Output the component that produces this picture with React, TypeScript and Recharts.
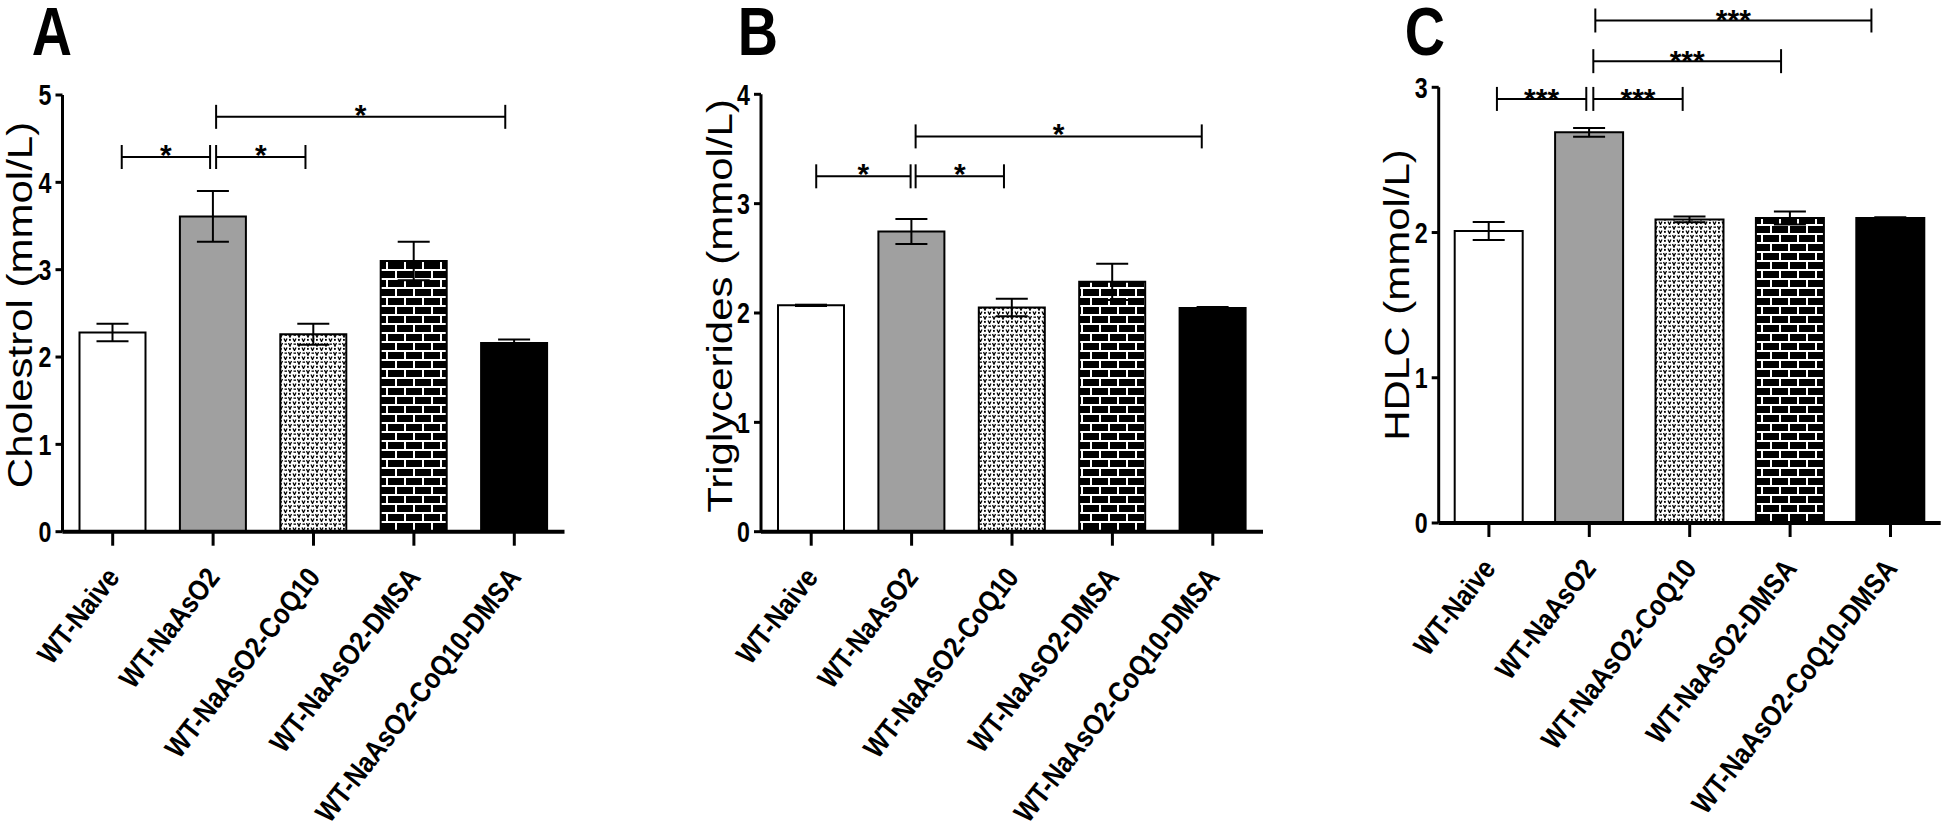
import { BarChart, Bar, XAxis, YAxis, ErrorBar, Cell, ReferenceLine } from "recharts";

const FONT = "'Liberation Sans', Arial, sans-serif";

const groups = [
  "WT-Naive",
  "WT-NaAsO2",
  "WT-NaAsO2-CoQ10",
  "WT-NaAsO2-DMSA",
  "WT-NaAsO2-CoQ10-DMSA",
];
const groupPos = [0, 1, 2, 3, 4];

// mean and SEM
const cholesterol = [2.28, 3.61, 2.26, 3.1, 2.16];
const cholesterolSem = [0.1, 0.29, 0.12, 0.22, 0.04];
const triglycerides = [2.07, 2.745, 2.05, 2.285, 2.045];
const triglyceridesSem = [0.006, 0.115, 0.08, 0.165, 0.01];
const hdlc = [2.01, 2.69, 2.09, 2.1, 2.1];
const hdlcSem = [0.062, 0.03, 0.02, 0.045, 0.006];

const cholTicks = [0, 1, 2, 3, 4, 5];
const trigTicks = [0, 1, 2, 3, 4];
const hdlcTicks = [0, 1, 2, 3];

// significance brackets: [from, to, level, stars], from/to in group-index units
type Bracket = [number, number, number, string];
const cholBrackets: Bracket[] = [
  [0.09, 0.97, 4.29, "*"],
  [1.03, 1.92, 4.29, "*"],
  [1.03, 3.91, 4.75, "*"],
];
const trigBrackets: Bracket[] = [
  [0.05, 0.99, 3.25, "*"],
  [1.04, 1.92, 3.25, "*"],
  [1.04, 3.89, 3.615, "*"],
];
const hdlcBrackets: Bracket[] = [
  [0.08, 0.97, 2.92, "***"],
  [1.04, 1.93, 2.92, "***"],
  [1.04, 2.91, 3.18, "***"],
  [1.06, 3.81, 3.46, "***"],
];

const PLOT_W = 502;

const GroupTick = (props: any) => {
  const { x, y, payload } = props;
  return (
    <text
      transform={`translate(${x + 8},${y + 30}) rotate(-52) scale(0.86,1)`}
      textAnchor="end"
      fontSize={29}
      fontWeight="bold"
      fill="#000"
      fontFamily={FONT}
    >
      {groups[payload.value]}
    </text>
  );
};

const NumTick = (props: any) => {
  const { x, y, payload } = props;
  return (
    <text
      transform={`translate(${x},${y}) scale(0.8,1)`}
      dy="0.36em"
      textAnchor="end"
      fontSize={29}
      fontWeight="bold"
      fill="#000"
      fontFamily={FONT}
    >
      {payload.value}
    </text>
  );
};

interface PanelProps {
  uid: string;
  letter: string;
  title: string;
  values: number[];
  sem: number[];
  ticks: number[];
  brackets: Bracket[];
  left: number;
  width: number;
  yAxisWidth: number;
  top: number;
  axisY: number;
  barSize: number;
  letterX: number;
  titleX: number;
  titleY: number;
  starOffset: number;
}

function Panel(p: PanelProps) {
  const data = groups.map((name, i) => ({ name, pos: groupPos[i], value: p.values[i], sem: p.sem[i] }));
  const yMax = p.ticks[p.ticks.length - 1];
  const pxPerUnit = (p.axisY - p.top) / yMax;
  const capHalf = 12 / pxPerUnit;
  const right = p.width - p.yAxisWidth - PLOT_W;
  const fills = ["#ffffff", "#a0a0a0", `url(#dots-${p.uid})`, `url(#bricks-${p.uid})`, "#000000"];

  const titleLabel = () => (
    <g>
      <text
        transform={`translate(${p.letterX},55) scale(0.82,1)`}
        textAnchor="middle"
        fontSize={68}
        fontWeight="bold"
        fill="#000"
        fontFamily={FONT}
      >
        {p.letter}
      </text>
      <text
        transform={`translate(${p.titleX},${p.titleY}) scale(0.85,1) rotate(-90)`}
        textAnchor="middle"
        fontSize={42}
        fill="#000"
        fontFamily={FONT}
      >
        {p.title}
      </text>
    </g>
  );

  return (
    <div style={{ position: "absolute", left: p.left, top: 0 }}>
      <BarChart
        width={p.width}
        height={824}
        data={data}
        margin={{ top: p.top, right, bottom: 0, left: 0 }}
        style={{ fontFamily: FONT }}
      >
        <defs>
          <pattern id={`dots-${p.uid}`} width={9} height={9} patternUnits="userSpaceOnUse">
            <rect width={9} height={9} fill="#fff" />
            <path d="M0.5,1 L2,4 L3.5,1" stroke="#000" strokeWidth={1.3} fill="none" />
            <path d="M5,5.5 L6.5,8.5 L8,5.5" stroke="#000" strokeWidth={1.3} fill="none" />
            <rect x={5.5} y={1.5} width={2.5} height={1.3} fill="#000" />
            <rect x={1} y={6} width={1.8} height={1.8} fill="#000" />
          </pattern>
          <pattern id={`bricks-${p.uid}`} width={18} height={18} patternUnits="userSpaceOnUse">
            <rect width={18} height={18} fill="#fff" />
            <rect x={1} y={1} width={16} height={7} fill="#000" />
            <rect x={0} y={10} width={8} height={7} fill="#000" />
            <rect x={10} y={10} width={8} height={7} fill="#000" />
          </pattern>
        </defs>
        <XAxis
          dataKey="pos"
          type="number"
          domain={[-0.5, 4.5]}
          allowDataOverflow
          ticks={groupPos}
          interval={0}
          height={824 - p.axisY}
          tickSize={14}
          tickMargin={2}
          axisLine={{ stroke: "#000", strokeWidth: 4 }}
          tickLine={{ stroke: "#000", strokeWidth: 3 }}
          tick={<GroupTick />}
        />
        <YAxis
          width={p.yAxisWidth}
          domain={[0, yMax]}
          allowDataOverflow
          ticks={p.ticks}
          interval={0}
          tickSize={7}
          tickMargin={4}
          axisLine={{ stroke: "#000", strokeWidth: 3 }}
          tickLine={{ stroke: "#000", strokeWidth: 3 }}
          tick={<NumTick />}
          label={titleLabel}
        />
        <Bar dataKey="value" barSize={p.barSize} stroke="#000" strokeWidth={2} isAnimationActive={false}>
          {data.map((d, i) => (
            <Cell key={d.name} fill={fills[i]} />
          ))}
          <ErrorBar dataKey="sem" width={16} strokeWidth={2} stroke="#000" direction="y" />
        </Bar>
        {p.brackets.map(([from, to, level, stars], i) => [
          <ReferenceLine
            key={`h${i}`}
            ifOverflow="visible"
            segment={[
              { x: from, y: level },
              { x: to, y: level },
            ]}
            stroke="#000"
            strokeWidth={2}
            label={{
              value: stars,
              position: "top",
              offset: p.starOffset,
              fontSize: 30,
              fontWeight: "bold",
              fill: "#000",
              fontFamily: FONT,
            }}
          />,
          <ReferenceLine
            key={`l${i}`}
            ifOverflow="visible"
            segment={[
              { x: from, y: level - capHalf },
              { x: from, y: level + capHalf },
            ]}
            stroke="#000"
            strokeWidth={2}
          />,
          <ReferenceLine
            key={`r${i}`}
            ifOverflow="visible"
            segment={[
              { x: to, y: level - capHalf },
              { x: to, y: level + capHalf },
            ]}
            stroke="#000"
            strokeWidth={2}
          />,
        ])}
      </BarChart>
    </div>
  );
}

export default function App() {
  return (
    <div
      style={{
        position: "absolute",
        left: 0,
        top: 0,
        width: 1946,
        height: 824,
        background: "#fff",
        overflow: "hidden",
      }}
    >
      <Panel
        uid="a"
        letter="A"
        title="Cholestrol (mmol/L)"
        values={cholesterol}
        sem={cholesterolSem}
        ticks={cholTicks}
        brackets={cholBrackets}
        left={0}
        width={600}
        yAxisWidth={62.5}
        top={95}
        axisY={531.7}
        barSize={66}
        letterX={52}
        titleX={32}
        titleY={305}
        starOffset={-8}
      />
      <Panel
        uid="b"
        letter="B"
        title="Triglycerides (mmol/L)"
        values={triglycerides}
        sem={triglyceridesSem}
        ticks={trigTicks}
        brackets={trigBrackets}
        left={650}
        width={620}
        yAxisWidth={111}
        top={94.3}
        axisY={531.7}
        barSize={66}
        letterX={108}
        titleX={82}
        titleY={306}
        starOffset={-8}
      />
      <Panel
        uid="c"
        letter="C"
        title="HDLC (mmol/L)"
        values={hdlc}
        sem={hdlcSem}
        ticks={hdlcTicks}
        brackets={hdlcBrackets}
        left={1330}
        width={616}
        yAxisWidth={108.7}
        top={87.3}
        axisY={523}
        barSize={68}
        letterX={95}
        titleX={79}
        titleY={295}
        starOffset={-10}
      />
    </div>
  );
}
